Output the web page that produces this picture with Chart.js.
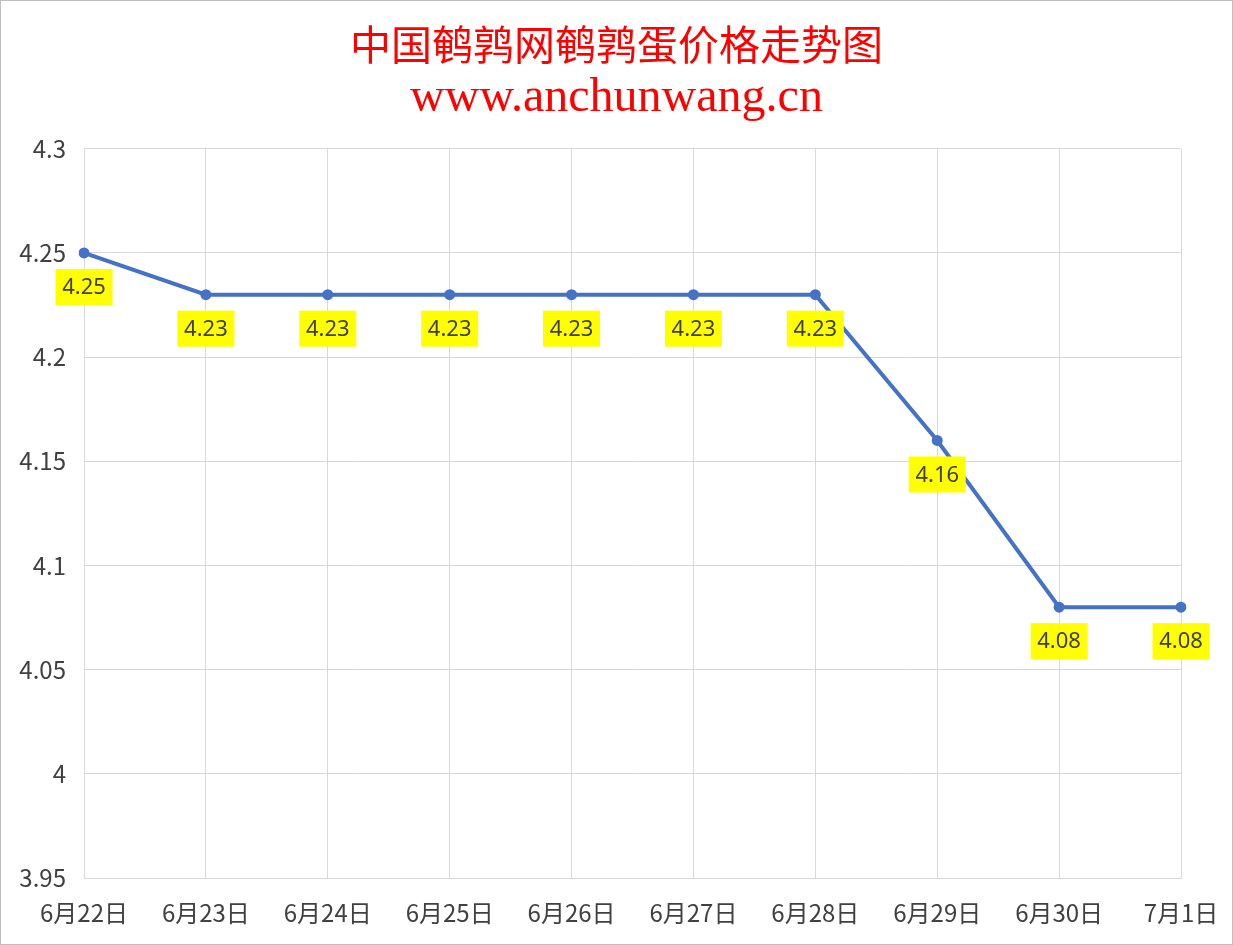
<!DOCTYPE html>
<html lang="zh-CN">
<head>
<meta charset="UTF-8">
<title>中国鹌鹑网鹌鹑蛋价格走势图</title>
<style>
  html, body { margin: 0; padding: 0; background: #fff; }
  canvas { display: block; }
</style>
</head>
<body>
<canvas id="myChart" width="1233" height="945"></canvas>
<script src="https://cdn.jsdelivr.net/npm/chart.js"></script>
<script>
// 日期与价格
const dates = ['6月22日', '6月23日', '6月24日', '6月25日', '6月26日', '6月27日', '6月28日', '6月29日', '6月30日', '7月1日'];
const prices = [4.25, 4.23, 4.23, 4.23, 4.23, 4.23, 4.23, 4.16, 4.08, 4.08];
const yMin = 3.95, yMax = 4.3, yStep = 0.05;

const tickFont = { family: '"Noto Sans CJK SC", "Noto Sans", sans-serif', size: 24 };

// 白底和外框
const frame = {
  id: 'frame',
  beforeDraw(chart) {
    const c = chart.ctx;
    c.save();
    c.fillStyle = '#fff';
    c.fillRect(0, 0, chart.width, chart.height);
    c.strokeStyle = '#bfbfbf';
    c.lineWidth = 1;
    c.strokeRect(0.5, 0.5, chart.width - 1, chart.height - 1);
    c.restore();
  }
};

// 黄色数据标签
const yellowLabels = {
  id: 'yellowLabels',
  afterDatasetsDraw(chart) {
    const c = chart.ctx;
    const meta = chart.getDatasetMeta(0);
    c.save();
    c.font = '22px "Noto Sans", "Open Sans", sans-serif';
    c.textAlign = 'center';
    c.textBaseline = 'middle';
    meta.data.forEach((pt, i) => {
      const txt = prices[i].toFixed(2);
      const w = 57, h = 36;
      const cy = pt.y + 34;
      c.fillStyle = '#ffff00';
      c.fillRect(pt.x - w / 2, cy - h / 2, w, h);
      c.fillStyle = '#404040';
      c.fillText(txt, pt.x, cy + 1);
    });
    c.restore();
  }
};

new Chart(document.getElementById('myChart'), {
  type: 'line',
  data: {
    labels: dates,
    datasets: [{
      data: prices,
      borderColor: '#4472c4',
      backgroundColor: '#4472c4',
      borderWidth: 4,
      pointRadius: 5.5,
      pointBackgroundColor: '#4472c4',
      pointBorderWidth: 0,
      fill: false,
      tension: 0
    }]
  },
  options: {
    responsive: false,
    animation: false,
    devicePixelRatio: 1,
    layout: { padding: { left: 0, right: 0, top: 0, bottom: 18 } },
    plugins: {
      legend: { display: false },
      tooltip: { enabled: false },
      title: {
        display: true,
        text: '中国鹌鹑网鹌鹑蛋价格走势图',
        color: '#ff0000',
        font: { family: '"Noto Sans CJK SC", serif', size: 41, weight: 'normal' },
        padding: { top: 20, bottom: 0 }
      },
      subtitle: {
        display: true,
        text: 'www.anchunwang.cn',
        color: '#ff0000',
        font: { family: '"Liberation Serif", "DejaVu Serif", serif', size: 48 },
        padding: { top: 0, bottom: 22 }
      }
    },
    scales: {
      x: {
        offset: false,
        grid: { color: '#d9d9d9', lineWidth: 1, drawTicks: false },
        border: { color: '#d9d9d9' },
        afterFit(s) { s.height = 49; s.paddingLeft = 0; s.paddingRight = 0; },
        ticks: { color: '#404040', font: tickFont, padding: 20, maxRotation: 0, autoSkip: false }
      },
      y: {
        min: yMin,
        max: yMax,
        grid: { color: '#d9d9d9', lineWidth: 1, drawTicks: false },
        border: { display: false },
        afterFit(s) { s.width = 84; },
        ticks: {
          stepSize: yStep,
          color: '#404040',
          font: tickFont,
          padding: 18,
          callback: v => String(Number(v.toFixed(2)))
        }
      },
      // 右侧留白
      yRight: {
        position: 'right',
        grid: { display: false },
        border: { display: false },
        ticks: { display: false },
        afterFit(s) { s.width = 52; }
      }
    }
  },
  plugins: [frame, yellowLabels]
});
</script>
</body>
</html>
